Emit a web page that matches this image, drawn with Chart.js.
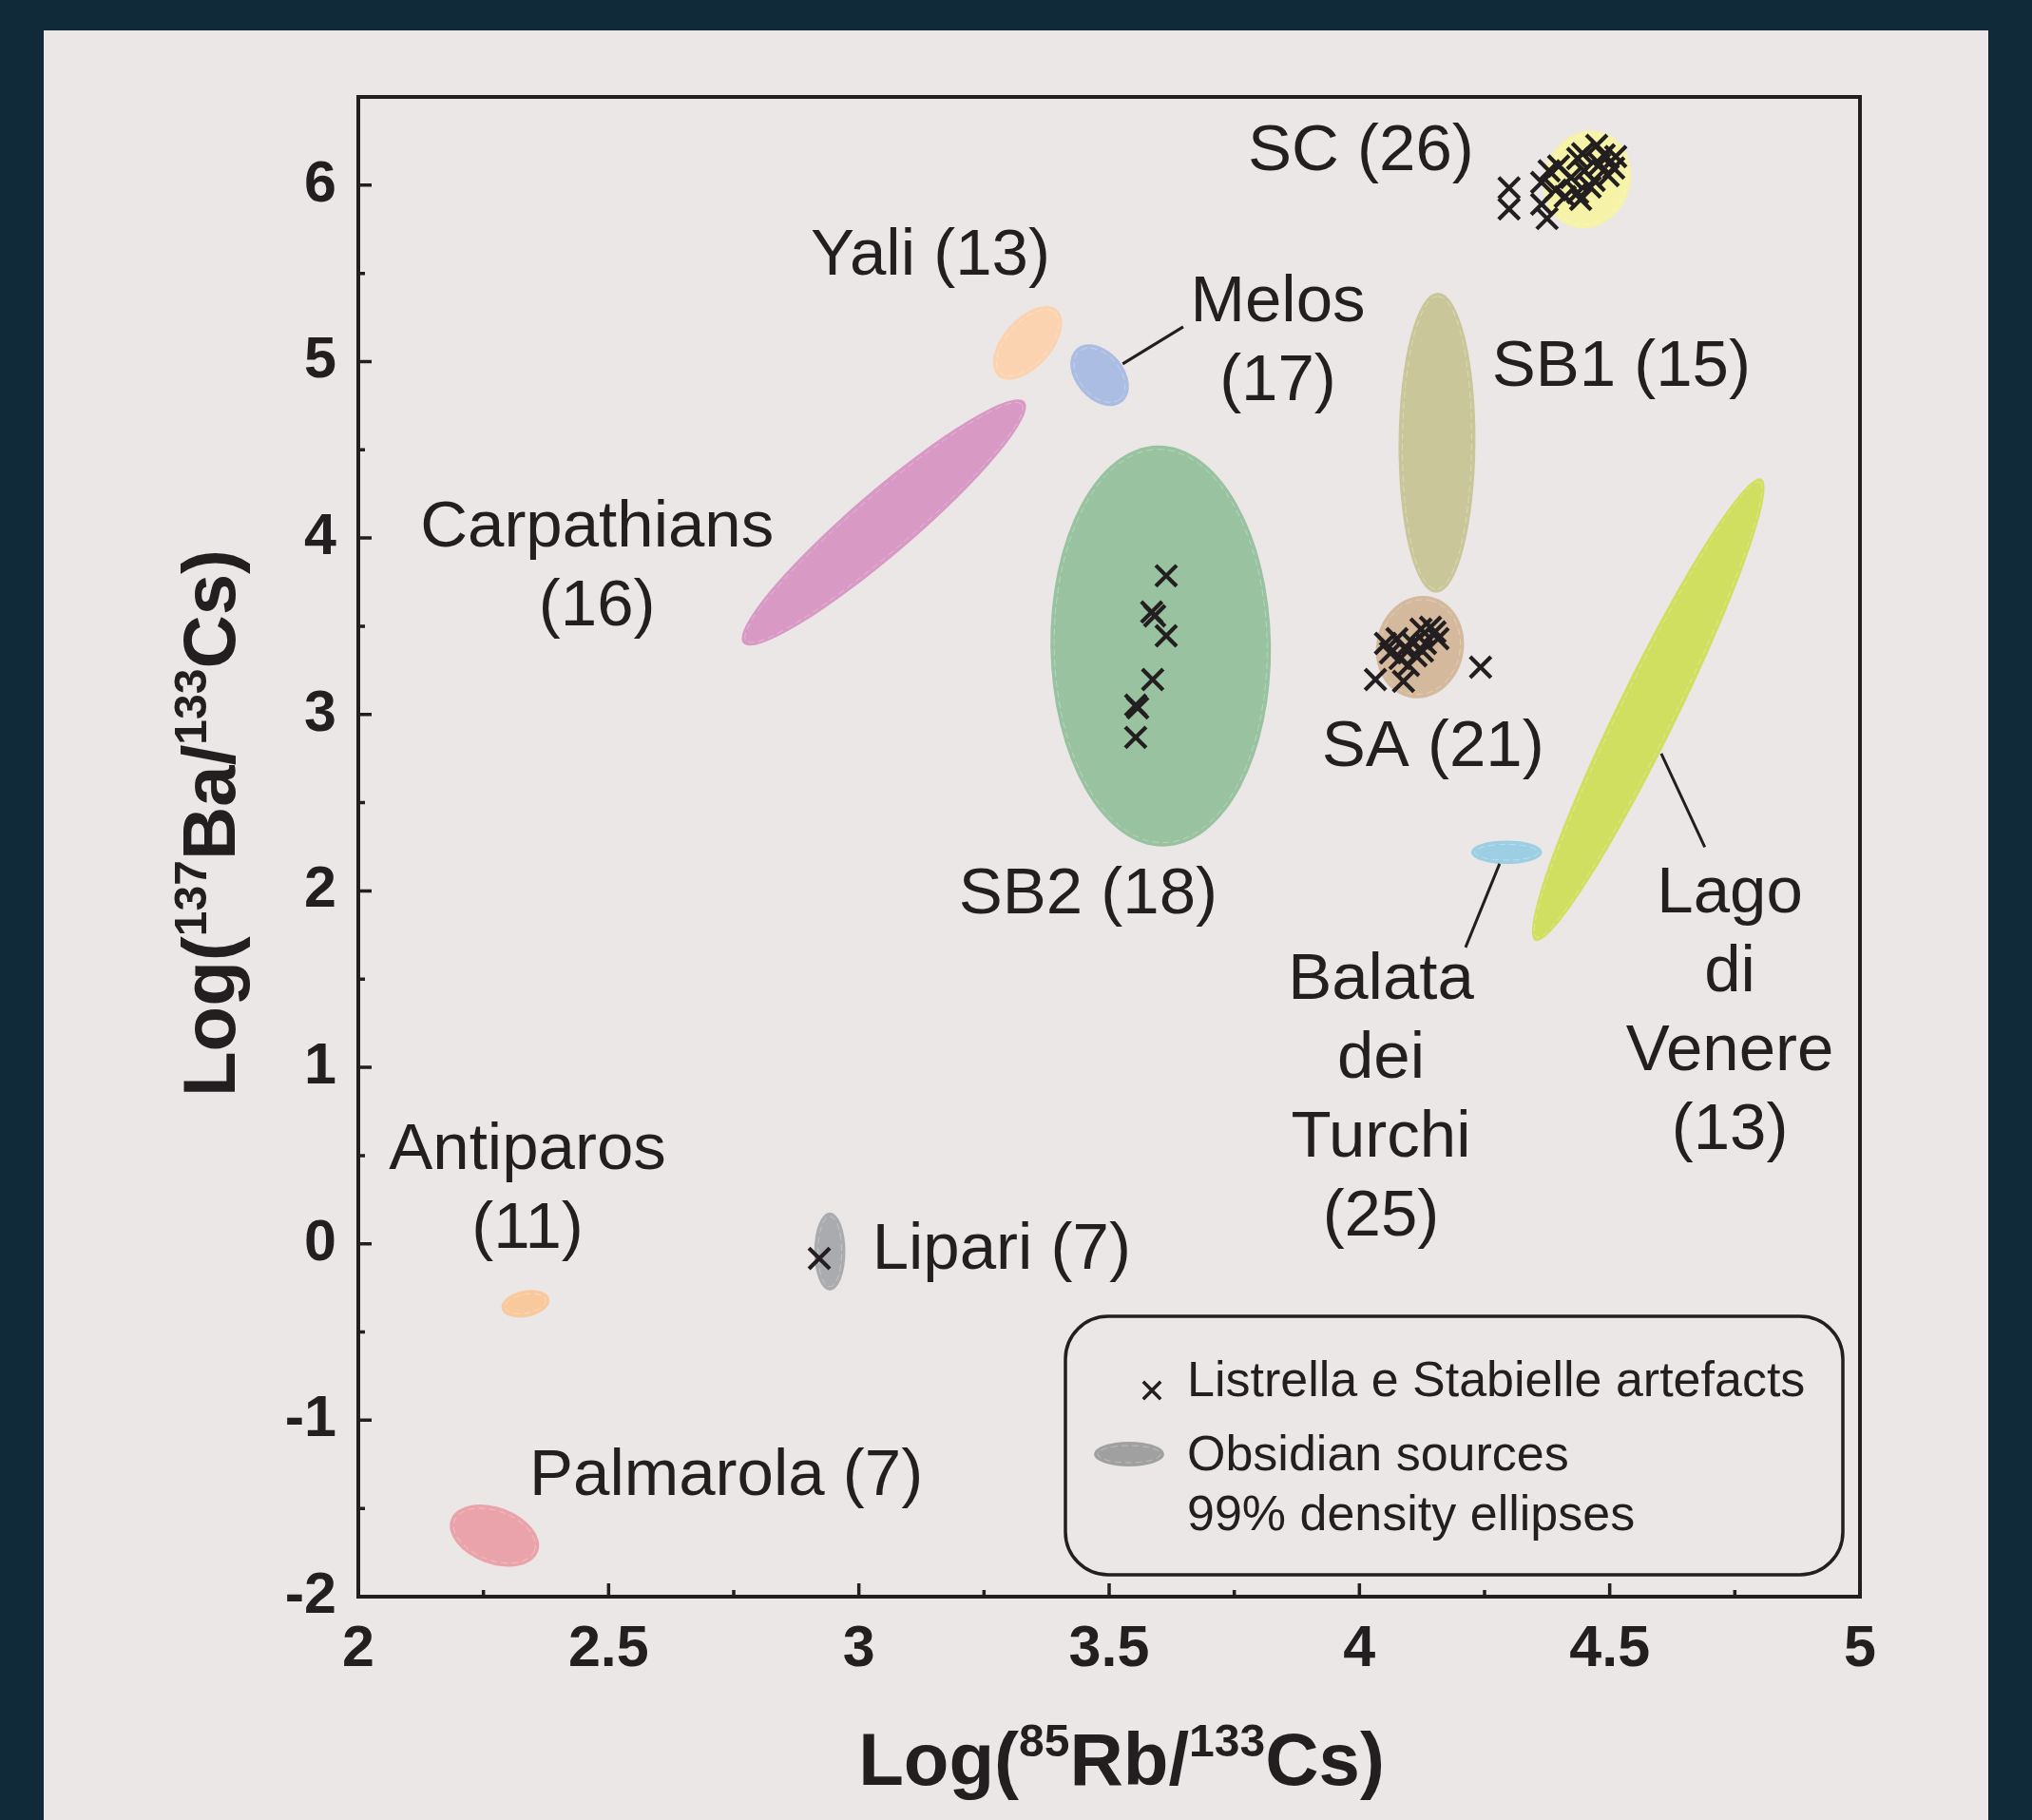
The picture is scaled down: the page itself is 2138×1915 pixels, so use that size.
<!DOCTYPE html>
<html lang="en">
<head>
<meta charset="UTF-8">
<title>Log Ba/Cs vs Log Rb/Cs</title>
<script src="https://cdn.jsdelivr.net/npm/chart.js"></script>
<style>
    body {
        margin: 0;
        width: 2138px;
        height: 1915px;
        overflow: hidden;
        position: relative;
        background-color: #112a3a;
    }
    .panel {
        position: absolute;
        left: 46px;
        top: 32px;
        width: 2046px;
        height: 1883px;
        background-color: #ebe7e6;
    }
    canvas {
        position: absolute;
        left: 0;
        top: 0;
    }
</style>
</head>
<body>
<div class="panel"></div>
<canvas id="chart" width="2138" height="1915"></canvas>
<script>
// Listrella e Stabielle artefacts (crosses)
const artefactX = [
    3.614, 3.585, 3.591, 3.614, 3.587, 3.553, 3.557, 3.553,
    2.921,
    4.052, 4.032, 4.088, 4.157, 4.142, 4.123, 4.075, 4.090, 4.107, 4.113, 4.098, 4.081, 4.126, 4.132, 4.062, 4.151, 4.242,
    4.299, 4.299, 4.364, 4.364, 4.375, 4.398, 4.392, 4.423, 4.436, 4.446, 4.449, 4.461, 4.474, 4.480, 4.489, 4.497, 4.508, 4.512, 4.411, 4.442, 4.469, 4.436, 4.379
];
const artefactY = [
    3.786, 3.581, 3.559, 3.446, 3.198, 3.053, 3.037, 2.870,
    -0.083,
    3.403, 3.198, 3.188, 3.430, 3.495, 3.484, 3.430, 3.376, 3.403, 3.333, 3.279, 3.317, 3.360, 3.403, 3.349, 3.468, 3.268,
    5.984, 5.865, 6.016, 5.892, 5.811, 6.108, 5.973, 6.043, 5.957, 6.178, 6.081, 5.989, 6.226, 6.119, 6.172, 6.054, 6.097, 6.162, 5.935, 5.919, 6.027, 6.151, 6.081
];

// obsidian sources, 99% density ellipses: centre, end of major axis, minor/major ratio
const sourceNames = ["Yali", "Melos", "Carpathians", "SB2", "SB1", "SA", "SC", "Lago di Venere", "Balata dei Turchi", "Lipari", "Antiparos", "Palmarola"];
const sourceCx    = [3.337, 3.481, 3.050, 3.603, 4.155, 4.121, 4.455, 4.577, 4.294, 2.942, 2.334, 2.272];
const sourceCy    = [5.106, 4.923, 4.088, 3.388, 4.540, 3.382, 6.032, 3.027, 2.219, -0.044, -0.340, -1.654];
const sourceTipX  = [3.396, 3.527, 3.331, 3.597, 4.157, 4.142, 4.489, 4.803, 4.365, 2.942, 2.382, 2.359];
const sourceTipY  = [5.294, 4.772, 4.772, 4.524, 5.391, 3.668, 6.296, 4.336, 2.219, 0.177, -0.313, -1.746];
const sourceRatio = [0.55, 0.68, 0.17, 0.55, 0.256, 0.85, 0.87, 0.116, 0.33, 0.40, 0.54, 0.61];
const sourceColors = ["#fcd3b0", "#abbde2", "#d899c4", "#99c2a0", "#c9c79a", "#d4b99d", "#f6f3a8", "#d0df5f", "#9dcfe4", "#aaabaf", "#f8c99c", "#eba3ab"];

// axis ticks
const xTicks = [2, 2.5, 3, 3.5, 4, 4.5, 5];
const xMinorTicks = [2.25, 2.75, 3.25, 3.75, 4.25, 4.75];
const yTicks = [-2, -1, 0, 1, 2, 3, 4, 5, 6];
const yMinorTicks = [-1.5, -0.5, 0.5, 1.5, 2.5, 3.5, 4.5, 5.5, 6.5];

// source labels (first line centre, in data units)
const labelLines = [
    ["SC (26)"], ["Yali (13)"], ["Melos", "(17)"], ["SB1 (15)"], ["Carpathians", "(16)"],
    ["SA (21)"], ["SB2 (18)"], ["Lago", "di", "Venere", "(13)"], ["Balata", "dei", "Turchi", "(25)"],
    ["Antiparos", "(11)"], ["Lipari (7)"], ["Palmarola (7)"]
];
const labelX = [4.003, 3.143, 3.837, 4.523, 2.477, 4.147, 3.458, 4.740, 4.043, 2.338, 3.285, 2.735];
const labelY = [6.189, 5.596, 5.332, 4.966, 4.055, 2.811, 1.976, 1.982, 1.492, 0.527, -0.038, -1.320];

// leader lines [x1, y1, x2, y2]
const leaderLines = [
    [3.527, 4.987, 3.648, 5.197],
    [4.280, 2.154, 4.212, 1.680],
    [4.603, 2.779, 4.690, 2.248]
];

const INK = '#231f20';
const FONT = '"Liberation Sans", Arial, Helvetica, sans-serif';

function drawRich(ctx, runs, x, y) {
    // runs: [text, isSuperscript]; centred on x, baseline y
    var widths = runs.map(function (r) {
        ctx.font = r[1] ? 'bold 48px ' + FONT : 'bold 78px ' + FONT;
        return ctx.measureText(r[0]).width;
    });
    var total = widths.reduce(function (a, b) { return a + b; }, 0);
    var cur = x - total / 2;
    ctx.textAlign = 'left';
    ctx.textBaseline = 'alphabetic';
    runs.forEach(function (r, i) {
        ctx.font = r[1] ? 'bold 48px ' + FONT : 'bold 78px ' + FONT;
        ctx.fillText(r[0], cur, r[1] ? y - 30 : y);
        cur += widths[i];
    });
}

function fillEllipse(ctx, cx, cy, a, b, rot, color) {
    ctx.beginPath();
    ctx.ellipse(cx, cy, a, b, rot, 0, Math.PI * 2);
    ctx.fillStyle = color;
    ctx.fill();
    // faint inner outline, as in the original artwork
    if (b > 8) {
        ctx.beginPath();
        ctx.ellipse(cx, cy, a - 4, b - 4, rot, 0, Math.PI * 2);
        ctx.strokeStyle = 'rgba(255,255,255,0.3)';
        ctx.lineWidth = 1;
        ctx.setLineDash([7, 4]);
        ctx.stroke();
        ctx.setLineDash([]);
    }
}

const ellipsePlugin = {
    id: 'sourceEllipses',
    beforeDatasetsDraw(chart) {
        const ctx = chart.ctx, x = chart.scales.x, y = chart.scales.y, area = chart.chartArea;
        ctx.save();
        ctx.beginPath();
        ctx.rect(area.left, area.top, area.right - area.left, area.bottom - area.top);
        ctx.clip();
        sourceNames.forEach(function (name, i) {
            var cx = x.getPixelForValue(sourceCx[i]), cy = y.getPixelForValue(sourceCy[i]);
            var tx = x.getPixelForValue(sourceTipX[i]), ty = y.getPixelForValue(sourceTipY[i]);
            var a = Math.hypot(tx - cx, ty - cy);
            fillEllipse(ctx, cx, cy, a, a * sourceRatio[i], Math.atan2(ty - cy, tx - cx), sourceColors[i]);
        });
        ctx.restore();
    }
};

const decorPlugin = {
    id: 'decor',
    afterDraw(chart) {
        const ctx = chart.ctx, x = chart.scales.x, y = chart.scales.y, area = chart.chartArea;
        ctx.save();
        ctx.strokeStyle = INK;
        ctx.fillStyle = INK;

        // frame and inward ticks
        ctx.lineWidth = 4;
        ctx.strokeRect(area.left, area.top, area.right - area.left, area.bottom - area.top);
        ctx.lineWidth = 3.5;
        ctx.beginPath();
        xTicks.forEach(function (v) { var p = x.getPixelForValue(v); ctx.moveTo(p, area.bottom); ctx.lineTo(p, area.bottom - 14); });
        xMinorTicks.forEach(function (v) { var p = x.getPixelForValue(v); ctx.moveTo(p, area.bottom); ctx.lineTo(p, area.bottom - 7); });
        yTicks.forEach(function (v) { var p = y.getPixelForValue(v); ctx.moveTo(area.left, p); ctx.lineTo(area.left + 14, p); });
        yMinorTicks.forEach(function (v) { var p = y.getPixelForValue(v); ctx.moveTo(area.left, p); ctx.lineTo(area.left + 7, p); });
        ctx.stroke();

        // leader lines
        ctx.lineWidth = 3;
        ctx.beginPath();
        leaderLines.forEach(function (l) {
            ctx.moveTo(x.getPixelForValue(l[0]), y.getPixelForValue(l[1]));
            ctx.lineTo(x.getPixelForValue(l[2]), y.getPixelForValue(l[3]));
        });
        ctx.stroke();

        // source labels
        ctx.font = '69px ' + FONT;
        ctx.textAlign = 'center';
        ctx.textBaseline = 'middle';
        labelLines.forEach(function (lines, i) {
            var px = x.getPixelForValue(labelX[i]), py = y.getPixelForValue(labelY[i]);
            lines.forEach(function (t, j) { ctx.fillText(t, px, py + j * 83); });
        });

        // axis titles
        drawRich(ctx, [["Log(", false], ["85", true], ["Rb/", false], ["133", true], ["Cs)", false]],
            (area.left + area.right) / 2 + 13, area.bottom + 198);
        ctx.save();
        ctx.translate(area.left - 130, (area.top + area.bottom) / 2 - 25);
        ctx.rotate(-Math.PI / 2);
        drawRich(ctx, [["Log(", false], ["137", true], ["Ba/", false], ["133", true], ["Cs)", false]], 0, 0);
        ctx.restore();

        // legend box
        var bx = 1121, by = 1385, bw = area.right - 18 - bx, bh = area.bottom - 23 - by;
        ctx.lineWidth = 3.5;
        ctx.beginPath();
        ctx.roundRect(bx, by, bw, bh, 45);
        ctx.stroke();
        Chart.helpers.drawPoint(ctx, { pointStyle: 'crossRot', radius: 13, borderWidth: 3.2 }, 1212, 1463);
        fillEllipse(ctx, 1188, 1530, 37, 13, 0, '#a0a0a0');
        ctx.fillStyle = INK;
        ctx.font = '52px ' + FONT;
        ctx.textAlign = 'left';
        ctx.textBaseline = 'alphabetic';
        ctx.fillText('Listrella e Stabielle artefacts', 1249, 1469);
        ctx.fillText('Obsidian sources', 1249, 1547);
        ctx.fillText('99% density ellipses', 1249, 1610);
        ctx.restore();
    }
};

const points = artefactX.map(function (v, i) { return { x: v, y: artefactY[i] }; });

new Chart(document.getElementById('chart'), {
    type: 'scatter',
    data: {
        datasets: [{
            label: 'Listrella e Stabielle artefacts',
            data: points,
            pointStyle: 'crossRot',
            pointRadius: 15.5,
            pointBorderWidth: 4.2,
            borderColor: INK,
            backgroundColor: INK
        }]
    },
    options: {
        responsive: false,
        animation: false,
        layout: { padding: { left: 46, top: 102, right: 181, bottom: 0 } },
        plugins: { legend: { display: false }, tooltip: { enabled: false } },
        scales: {
            x: {
                type: 'linear',
                min: 2,
                max: 5,
                afterBuildTicks: function (axis) { axis.ticks = xTicks.map(function (v) { return { value: v }; }); },
                afterFit: function (scale) { scale.height = 235; },
                grid: { display: false, drawTicks: false },
                border: { display: false },
                ticks: {
                    padding: 20,
                    color: INK,
                    font: { family: FONT, size: 61, weight: 'bold' },
                    callback: function (v) { return String(v); }
                }
            },
            y: {
                type: 'linear',
                min: -2,
                max: 6.5,
                afterBuildTicks: function (axis) { axis.ticks = yTicks.map(function (v) { return { value: v }; }); },
                afterFit: function (scale) { scale.width = 331; },
                grid: { display: false, drawTicks: false },
                border: { display: false },
                ticks: {
                    padding: 23,
                    color: INK,
                    font: { family: FONT, size: 61, weight: 'bold' },
                    callback: function (v) { return String(v); }
                }
            }
        }
    },
    plugins: [ellipsePlugin, decorPlugin]
});
</script>
</body>
</html>
